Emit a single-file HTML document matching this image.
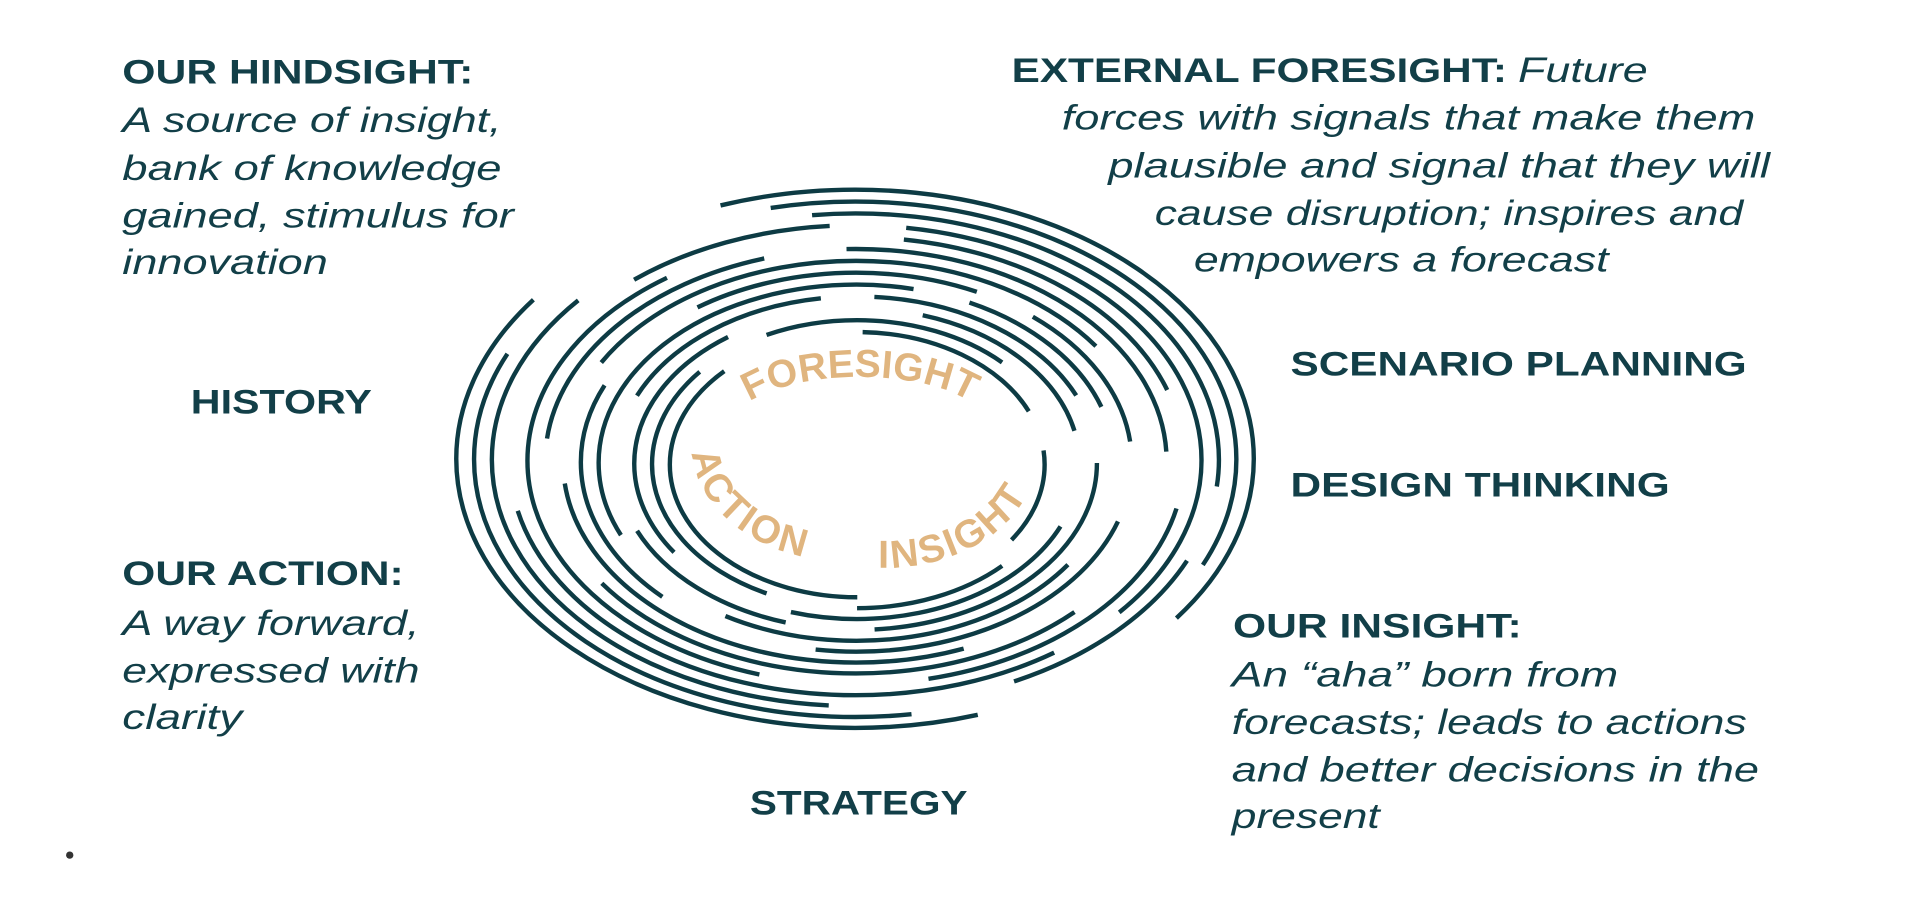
<!DOCTYPE html>
<html><head><meta charset="utf-8"><style>
html,body{margin:0;padding:0;background:#fff;width:1918px;height:898px;overflow:hidden}
svg{display:block}
.h{font-family:"Liberation Sans",sans-serif;font-weight:bold;fill:#123f48;font-size:28px}
.i{font-family:"Liberation Sans",sans-serif;font-style:italic;fill:#123f48;font-size:29px}
.g{font-family:"Liberation Sans",sans-serif;font-weight:bold;fill:#e0b57f;font-size:32px;letter-spacing:2px}
.r{fill:none;stroke:#0d3b44;stroke-width:3.6}
</style></head><body>
<svg width="1918" height="898" viewBox="0 0 1568 734" xmlns="http://www.w3.org/2000/svg">
<text class="h" x="100" y="68" textLength="287" lengthAdjust="spacingAndGlyphs">OUR HINDSIGHT:</text>
<text class="i" x="100" y="108" textLength="310" lengthAdjust="spacingAndGlyphs">A source of insight,</text>
<text class="i" x="100" y="147" textLength="310" lengthAdjust="spacingAndGlyphs">bank of knowledge</text>
<text class="i" x="100" y="186" textLength="320" lengthAdjust="spacingAndGlyphs">gained, stimulus for</text>
<text class="i" x="100" y="224" textLength="168" lengthAdjust="spacingAndGlyphs">innovation</text>

<text class="h" x="827" y="67" textLength="405" lengthAdjust="spacingAndGlyphs">EXTERNAL FORESIGHT:</text>
<text class="i" x="1241" y="67" textLength="106" lengthAdjust="spacingAndGlyphs">Future</text>
<text class="i" x="868" y="106" textLength="567" lengthAdjust="spacingAndGlyphs">forces with signals that make them</text>
<text class="i" x="906" y="145" textLength="541" lengthAdjust="spacingAndGlyphs">plausible and signal that they will</text>
<text class="i" x="944" y="184" textLength="481" lengthAdjust="spacingAndGlyphs">cause disruption; inspires and</text>
<text class="i" x="976" y="222" textLength="339" lengthAdjust="spacingAndGlyphs">empowers a forecast</text>

<text class="h" x="156" y="338" textLength="148" lengthAdjust="spacingAndGlyphs">HISTORY</text>
<text class="h" x="1055" y="307" textLength="373" lengthAdjust="spacingAndGlyphs">SCENARIO PLANNING</text>
<text class="h" x="1055" y="406" textLength="310" lengthAdjust="spacingAndGlyphs">DESIGN THINKING</text>

<text class="h" x="100" y="478" textLength="230" lengthAdjust="spacingAndGlyphs">OUR ACTION:</text>
<text class="i" x="100" y="519" textLength="243" lengthAdjust="spacingAndGlyphs">A way forward,</text>
<text class="i" x="100" y="558" textLength="243" lengthAdjust="spacingAndGlyphs">expressed with</text>
<text class="i" x="100" y="596" textLength="98" lengthAdjust="spacingAndGlyphs">clarity</text>

<text class="h" x="1008" y="521" textLength="236" lengthAdjust="spacingAndGlyphs">OUR INSIGHT:</text>
<text class="i" x="1007" y="561" textLength="316" lengthAdjust="spacingAndGlyphs">An “aha” born from</text>
<text class="i" x="1007" y="600" textLength="421" lengthAdjust="spacingAndGlyphs">forecasts; leads to actions</text>
<text class="i" x="1007" y="639" textLength="431" lengthAdjust="spacingAndGlyphs">and better decisions in the</text>
<text class="i" x="1007" y="677" textLength="121" lengthAdjust="spacingAndGlyphs">present</text>

<text class="h" x="613" y="666" textLength="178" lengthAdjust="spacingAndGlyphs">STRATEGY</text>
<circle cx="57" cy="699" r="3" fill="#333"/>

<g>
<ellipse class="r" cx="699" cy="375" rx="326" ry="220" pathLength="360" stroke-dasharray="142 36 144 38" stroke-dashoffset="-69"/>
<ellipse class="r" cx="699.15" cy="375.4" rx="311.6" ry="210.7" pathLength="360" stroke-dasharray="120 55 125 60" stroke-dashoffset="-80"/>
<ellipse class="r" cx="699.3" cy="375.8" rx="297.2" ry="201.4" pathLength="360" stroke-dasharray="40 35 120 47 103 15" stroke-dashoffset="-20"/>
<ellipse class="r" cx="699.45" cy="376.2" rx="282.8" ry="192.1" pathLength="360" stroke-dasharray="120 55 40 15 115 15" stroke-dashoffset="-50"/>
<ellipse class="r" cx="699.6" cy="376.6" rx="268.4" ry="182.8" pathLength="360" stroke-dasharray="65 35 120 50 65 25" stroke-dashoffset="-10"/>
<ellipse class="r" cx="699.75" cy="377" rx="254" ry="173.5" pathLength="360" stroke-dasharray="110 35 65 18 90 42" stroke-dashoffset="-40"/>
<ellipse class="r" cx="699.9" cy="377.4" rx="239.6" ry="164.2" pathLength="360" stroke-dasharray="110 30 125 95" stroke-dashoffset="-65"/>
<ellipse class="r" cx="700.05" cy="377.8" rx="225.2" ry="154.9" pathLength="360" stroke-dasharray="85 40 60 30 70 15 40 20" stroke-dashoffset="-15"/>
<ellipse class="r" cx="700.2" cy="378.2" rx="210.8" ry="145.6" pathLength="360" stroke-dasharray="95 35 125 15 45 45" stroke-dashoffset="-30"/>
<ellipse class="r" cx="700.35" cy="378.6" rx="196.4" ry="136.3" pathLength="360" stroke-dasharray="85 25 50 40 60 15 65 20" stroke-dashoffset="0"/>
<ellipse class="r" cx="700.5" cy="379" rx="182" ry="127" pathLength="360" stroke-dasharray="90 40 80 60 60 30" stroke-dashoffset="-20"/>
<ellipse class="r" cx="700.65" cy="379.4" rx="167.6" ry="117.7" pathLength="360" stroke-dasharray="50 30 95 25 80 80" stroke-dashoffset="-40"/>
<ellipse class="r" cx="700.8" cy="379.8" rx="153.2" ry="108.4" pathLength="360" stroke-dasharray="130 52 68 15 35 60" stroke-dashoffset="-90"/>
</g>

<defs>
<path id="pf" d="M 596,352 A 107,44 0 0 1 810,352"/>
<path id="pa" d="M 566,370 A 125,95 0 0 0 676,458"/>
<path id="pi" d="M 718,464 A 125,95 0 0 0 848,378"/>
</defs>
<text class="g" style="letter-spacing:0px" text-anchor="middle"><textPath href="#pf" startOffset="50%">FORESIGHT</textPath></text>
<text class="g"><textPath href="#pa">ACTION</textPath></text>
<text class="g"><textPath href="#pi">INSIGHT</textPath></text>
</svg>
</body></html>
